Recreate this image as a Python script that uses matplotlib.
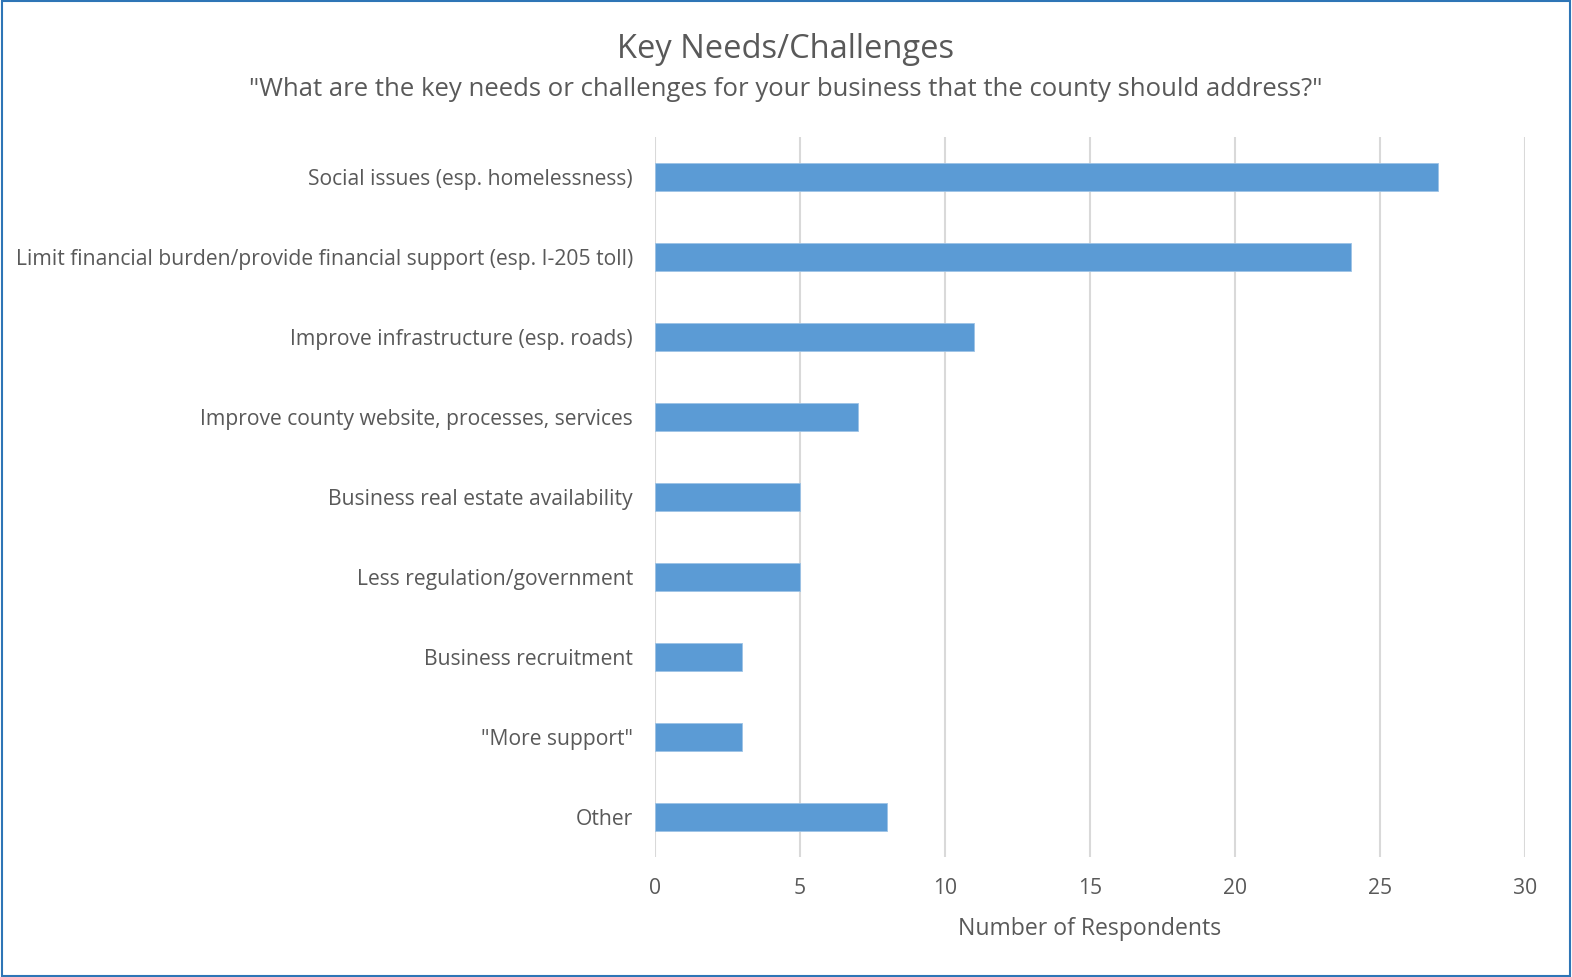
import matplotlib.pyplot as plt
from matplotlib.patches import Rectangle

categories = [
    "Social issues (esp. homelessness)",
    "Limit financial burden/provide financial support (esp. I-205 toll)",
    "Improve infrastructure (esp. roads)",
    "Improve county website, processes, services",
    "Business real estate availability",
    "Less regulation/government",
    "Business recruitment",
    "\"More support\"",
    "Other",
]
counts = [27, 24, 11, 7, 5, 5, 3, 3, 8]
x_ticks = [0, 5, 10, 15, 20, 25, 30]

TEXT = "#595959"
BAR = "#5B9BD5"
GRID = "#D9D9D9"

plt.rcParams["font.family"] = ["Open Sans", "DejaVu Sans"]

fig = plt.figure(figsize=(15.72, 9.77), dpi=100)
ax = fig.add_axes([655 / 1572, 1 - 857 / 977, 870 / 1572, 720 / 977])

ypos = list(range(len(categories)))
ax.barh(ypos, counts, height=0.35, color=BAR, edgecolor="#9DC3E6", linewidth=0.6, zorder=3)
ax.set_ylim(len(categories) - 0.5, -0.5)
ax.set_xlim(0, 30)
ax.set_xticks(x_ticks)
ax.set_yticks(ypos)
ax.set_yticklabels(categories)
ax.tick_params(axis="both", length=0, colors=TEXT, labelsize=15.2)
ax.tick_params(axis="y", pad=16)
ax.tick_params(axis="x", pad=15)
ax.grid(axis="x", color=GRID, linewidth=1.5, zorder=0)
for s in ax.spines.values():
    s.set_visible(False)
ax.set_xlabel("Number of Respondents", color=TEXT, fontsize=16.6, labelpad=13)

fig.text(0.5, 1 - 49 / 977, "Key Needs/Challenges", ha="center", va="center",
         fontsize=23.5, color=TEXT)
fig.text(0.5, 1 - 89 / 977,
         "\"What are the key needs or challenges for your business that the county should address?\"",
         ha="center", va="center", fontsize=18.5, color=TEXT)

fig.patches.append(Rectangle((0.001, 0.001), 0.998, 0.998, transform=fig.transFigure,
                             fill=False, edgecolor="#2E75B6", linewidth=1.5))

fig.savefig("out.png", dpi=100)
